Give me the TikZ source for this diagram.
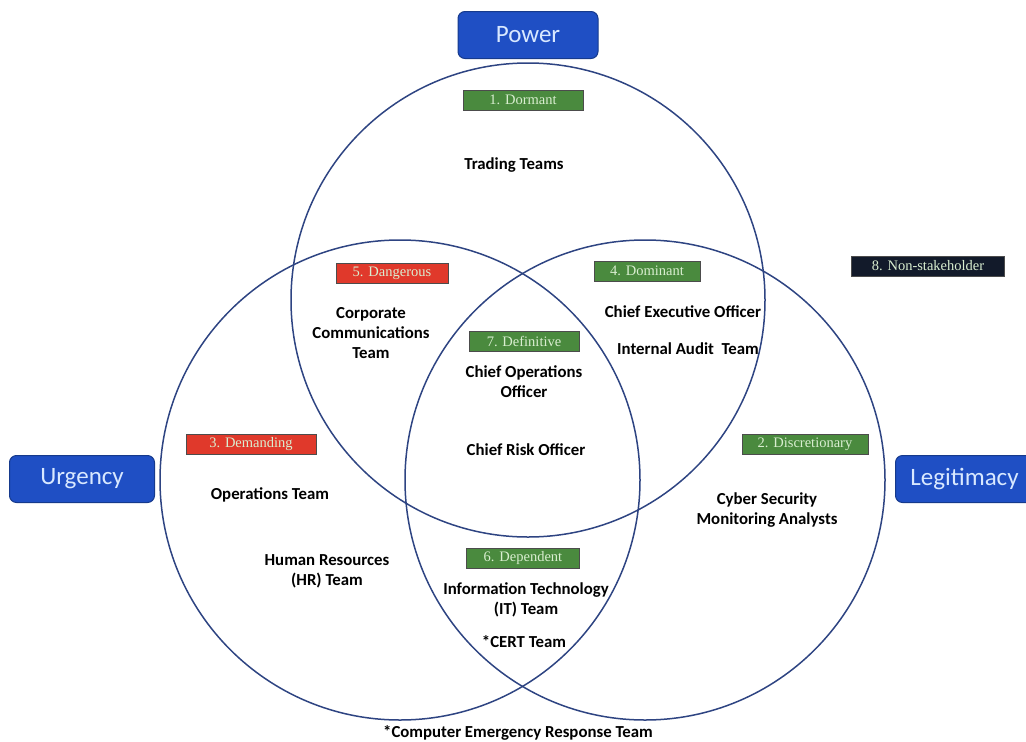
\documentclass[tikz,border=0pt]{standalone}
\usepackage{fontspec}
\setmainfont{Carlito}
\newfontfamily\tagfont{Liberation Serif}
\begin{document}
\begin{tikzpicture}[x=1pt,y=-1pt,
  ring/.style={draw=circblue,line width=1.5pt},
  headbox/.style={draw=headedge,fill=headfill,rounded corners=7pt,line width=1pt,
    minimum height=47pt,text=headtext,font=\fontsize{25}{28}\selectfont,inner sep=0pt},
  tag/.style={draw=black!70,line width=0.8pt,minimum height=20pt,inner sep=0pt,
    text=tagtext,font=\tagfont\fontsize{14.5}{16}\selectfont},
  greentag/.style={tag,fill=taggreen},
  redtag/.style={tag,fill=tagred},
  darktag/.style={tag,fill=tagdark},
  member/.style={align=center,font=\bfseries\fontsize{16.8}{20}\selectfont,inner sep=0pt,yshift=-2pt}]
\definecolor{circblue}{HTML}{2E4482}
\definecolor{headfill}{HTML}{1F4FC4}
\definecolor{headedge}{HTML}{163A8C}
\definecolor{headtext}{HTML}{D8E8FF}
\definecolor{taggreen}{HTML}{4A8A3E}
\definecolor{tagred}{HTML}{E0392B}
\definecolor{tagdark}{HTML}{121A2A}
\definecolor{tagtext}{HTML}{D9EED0}
\useasboundingbox (0,0) rectangle (1026,742);
\begin{scope}
\clip (0,0) rectangle (1026,742);

% three overlapping circles
\draw[ring] (528,300) circle[radius=237];
\draw[ring] (400,480) circle[radius=240];
\draw[ring] (645,480) circle[radius=240];

% attribute headings
\node[headbox,minimum width=140pt] (power) at (528,35) {Power};
\node[headbox,minimum width=145pt] (urgency) at (82,479) {Urgency};
\node[headbox,minimum width=150pt,anchor=west] (legit) at (895,479) {\hspace*{-12pt}Legitimacy};

% stakeholder classes
\node[greentag,minimum width=120pt] (c1) at (523,100) {1. Dormant};
\node[redtag,minimum width=112pt] (c5) at (392,273) {5. Dangerous};
\node[greentag,minimum width=106pt] (c4) at (647,271) {4. Dominant};
\node[darktag,minimum width=153pt] (c8) at (928,266) {8. Non-stakeholder};
\node[greentag,minimum width=110pt] (c7) at (524,341) {7. Definitive};
\node[redtag,minimum width=130pt] (c3) at (251,444) {3. Demanding};
\node[greentag,minimum width=126pt] (c2) at (805,444) {2. Discretionary};
\node[greentag,minimum width=113pt] (c6) at (523,558) {6. Dependent};

% stakeholders
\node[member] (trading) at (514,163) {Trading Teams};
\node[member] (corpcomm) at (371,331) {Corporate\\Communications\\Team};
\node[member] (ceo) at (683,310) {Chief Executive Officer};
\node[member] (audit) at (688,347) {Internal Audit\ \ Team};
\node[member] (coo) at (524,380) {Chief Operations\\Officer};
\node[member] (cro) at (526,448) {Chief Risk Officer};
\node[member] (ops) at (270,493) {Operations Team};
\node[member] (hr) at (327,569) {Human Resources\\(HR) Team};
\node[member] (cyber) at (767,508) {Cyber Security\\Monitoring Analysts};
\node[member] (it) at (526,598) {Information Technology\\(IT) Team};
\node[member] (cert) at (524,640) {*CERT Team};
\node[member] (note) at (518,731) {*Computer Emergency Response Team};
\end{scope}
\end{tikzpicture}
\end{document}
